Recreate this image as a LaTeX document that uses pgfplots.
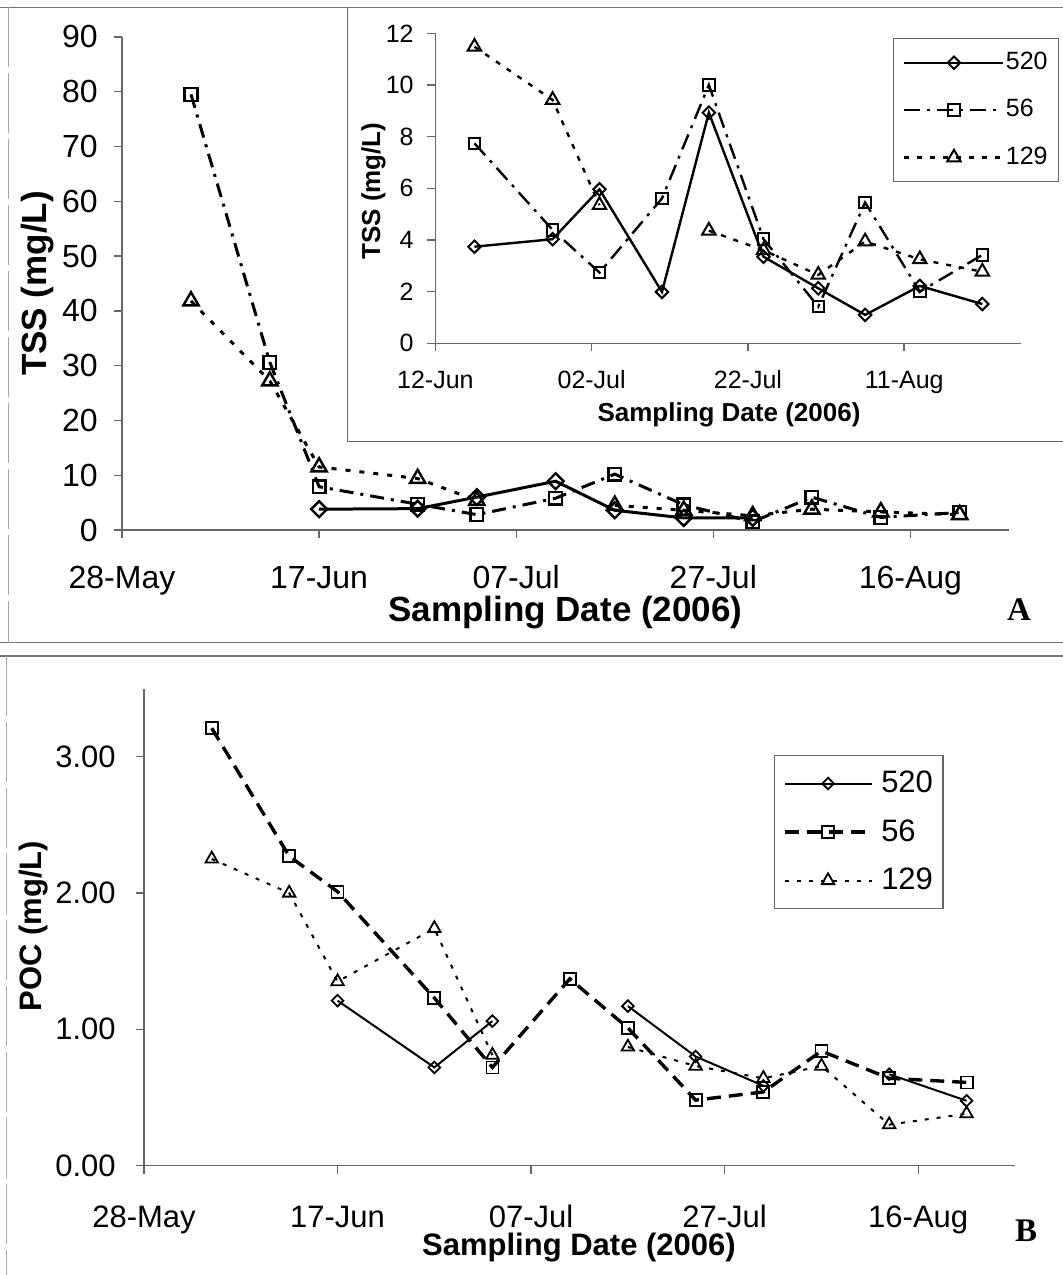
\documentclass[border=0pt]{standalone}
\usepackage{fontspec}
\setmainfont{Liberation Sans}
\newfontfamily\panelfont{Liberation Serif}
\usepackage{pgfplots}
\usepackage{pgfplotstable}
\pgfplotsset{compat=1.18}

% TSS over the whole season (mg/L); day = days after 28 May 2006
\pgfplotstableread{
day s520 s56 s129
7   nan  79.5 41.8
15  nan  30.6 27.2
20  3.8  7.9  11.5
30  3.9  4.7  9.4
36  6.0  2.8  5.4
44  8.9  5.8  nan
50  3.6  10.2 4.5
57  2.2  4.6  3.6
64  2.2  1.5  2.6
70  nan  6.0  3.8
77  nan  2.3  3.3
85  nan  3.2  2.8
}\tssfull

% TSS from 12 June on (mg/L)
\pgfplotstableread{
day s520 s56 s129
20  3.74 7.74 11.48
30  4.03 4.39 9.42
36  5.96 2.74 5.35
44  1.99 5.61 nan
50  8.93 10.0 4.36
57  3.35 4.03 3.6
64  2.13 1.42 2.65
70  1.10 5.45 3.94
77  2.22 2.0  3.25
85  1.52 3.42 2.77
}\tsslate

% POC (mg/L)
\pgfplotstableread{
day s520 s56 s129
7   nan   3.21 2.25
15  nan   2.27 2.00
20  1.21  2.01 1.35
30  0.72  1.23 1.74
36  1.06  0.72 0.81
44  nan   1.37 nan
50  1.17  1.01 0.87
57  0.80  0.48 0.73
64  0.585 0.54 0.64
70  nan   0.84 0.73
77  0.67  0.64 0.30
85  0.475 0.61 0.38
}\poc

\pgfplotsset{
  sheet/.style={
    scale only axis, anchor=south west,
    axis x line=bottom, axis y line=left,
    axis line style={-, draw=black!60, line width=0.8pt},
    tick style={draw=black!60, line width=0.7pt},
    tick align=outside, major tick length=4pt,
    /pgf/number format/assume math mode=true,
    unbounded coords=jump, clip=false,
    legend cell align=left,
    yticklabel style={anchor=east, inner sep=0pt},
    xticklabel style={anchor=base, inner sep=0pt},
    xlabel={Sampling Date (2006)},
    xlabel style={anchor=center},
    ylabel style={anchor=center},
  },
  dayaxis/.style={xmin=0, xmax=90, xtick={0,20,40,60,80},
    xticklabels={28-May,17-Jun,07-Jul,27-Jul,16-Aug}},
}

\begin{document}
\begin{tikzpicture}
\useasboundingbox (0,0) rectangle (531.5pt,-637.5pt);
% panel frames
\draw[black!55, line width=0.6pt] (0,-3.65pt) -- (531.5pt,-3.65pt);
\draw[black!55, line width=0.6pt] (0,-321.35pt) -- (531.5pt,-321.35pt);
\draw[black!55, line width=0.6pt] (0,-328pt) -- (531.5pt,-328pt);
\draw[black!35, line width=0.4pt, dash pattern=on 30pt off 3pt] (4pt,-3.65pt) -- (4pt,-321.35pt);
\draw[black!35, line width=0.4pt, dash pattern=on 30pt off 3pt] (3pt,-328pt) -- (3pt,-637.5pt);
% inset frame
\draw[black!60, line width=0.7pt] (173.8pt,-3.65pt) -- (173.8pt,-220.85pt) -- (531.5pt,-220.85pt);

% ---------- A: TSS, full season ----------
\begin{axis}[sheet, dayaxis, at={(61pt,-265pt)},
  width=443.5pt, height=246.6pt, ymin=0, ymax=90, ytick={0,10,...,90},
  tick label style={font=\fontsize{16}{19}\selectfont},
  yticklabel style={xshift=-8pt},
  xticklabel style={yshift=-25pt},
  ylabel={TSS (mg/L)},
  label style={font=\bfseries\fontsize{17.5}{21}\selectfont},
  xlabel style={at={(axis description cs:0.5,-0.168)}},
  ylabel style={at={(axis description cs:-0.0958,0.5)}},
]
\addplot[black, solid, line width=1.5pt, mark=square, mark size=2.8pt,
  mark options={solid, fill=white, rotate=45, line width=1.2pt}]
  table[x=day, y=s520] {\tssfull};
\addplot[black, line width=1.5pt, dash pattern=on 7pt off 3.5pt on 1.5pt off 3.5pt,
  mark=square, mark size=3.2pt, mark options={solid, fill=white, line width=1.2pt}]
  table[x=day, y=s56] {\tssfull};
\addplot[black, line width=1.5pt, dash pattern=on 2.5pt off 4.5pt,
  mark=triangle, mark size=4.4pt, mark options={solid, fill=white, line width=1.2pt}]
  table[x=day, y=s129] {\tssfull};
\end{axis}

% ---------- A inset: TSS from 12 June ----------
\begin{axis}[sheet, at={(217.7pt,-171.65pt)},
  width=293pt, height=155pt, xmin=15, xmax=90, xtick={15,35,55,75},
  xticklabels={12-Jun,02-Jul,22-Jul,11-Aug},
  ymin=0, ymax=12, ytick={0,2,...,12},
  tick label style={font=\fontsize{12.5}{15}\selectfont},
  yticklabel style={xshift=-6.7pt},
  xticklabel style={yshift=-18.5pt},
  ylabel={TSS (mg/L)},
  label style={font=\bfseries\fontsize{13}{16}\selectfont},
  xlabel style={at={(axis description cs:0.501,-0.231)}},
  ylabel style={at={(axis description cs:-0.1056,0.491)}},
  legend image code/.code={\draw[mark repeat=2,mark phase=2,#1]
    plot coordinates {(0pt,0pt) (24.75pt,0pt) (49.5pt,0pt)};},
  legend style={at={(axis description cs:1.064,0.985)}, anchor=north east,
    draw=black!60, line width=0.6pt, inner xsep=4.75pt, inner ysep=5.75pt,
    font=\fontsize{12.5}{15}\selectfont, row sep=11pt,
    nodes={inner sep=0.6pt, text height=9pt, text depth=2.5pt}},
]
\addplot[black, solid, line width=1.2pt, mark=square, mark size=2.2pt,
  mark options={solid, fill=white, rotate=45, line width=1pt}]
  table[x=day, y=s520] {\tsslate};
\addplot[black, line width=1.2pt, dash pattern=on 8pt off 3.5pt on 1.5pt off 3.5pt,
  mark=square, mark size=2.85pt, mark options={solid, fill=white, line width=1pt}]
  table[x=day, y=s56] {\tsslate};
\addplot[black, line width=1.2pt, dash pattern=on 2.5pt off 4pt,
  mark=triangle, mark size=3.9pt, mark options={solid, fill=white, line width=1pt}]
  table[x=day, y=s129] {\tsslate};
\legend{520,56,129}
\end{axis}

% ---------- B: POC ----------
\begin{axis}[sheet, dayaxis, at={(72pt,-582.75pt)},
  width=435.5pt, height=238.45pt, ymin=0, ymax=3.5, ytick={0,1,2,3},
  yticklabels={0.00,1.00,2.00,3.00},
  tick label style={font=\fontsize{15.5}{18.5}\selectfont},
  yticklabel style={xshift=-10pt},
  xticklabel style={yshift=-27pt},
  ylabel={POC (mg/L)},
  label style={font=\bfseries\fontsize{15.5}{18.5}\selectfont},
  xlabel style={at={(axis description cs:0.4994,-0.172)}},
  ylabel style={at={(axis description cs:-0.1263,0.502)}},
  legend image code/.code={\draw[mark repeat=2,mark phase=2,#1]
    plot coordinates {(0pt,0pt) (21.75pt,0pt) (43.5pt,0pt)};
    \path (46.5pt,0pt);},
  legend style={at={(axis description cs:0.918,0.861)}, anchor=north east,
    draw=black!60, line width=0.6pt, inner xsep=4pt, inner ysep=6pt,
    font=\fontsize{15.5}{18.5}\selectfont, row sep=8.25pt,
    nodes={inner sep=1pt, text height=11.5pt, text depth=2.5pt}},
]
\addplot[black, solid, line width=1pt, mark=square, mark size=2.05pt,
  mark options={solid, fill=white, rotate=45, line width=0.9pt}]
  table[x=day, y=s520] {\poc};
\addplot[black, line width=1.7pt, dash pattern=on 7pt off 4pt,
  mark=square, mark size=3pt, mark options={solid, fill=white, line width=0.9pt}]
  table[x=day, y=s56] {\poc};
\addplot[black, line width=1pt, dash pattern=on 2pt off 4pt,
  mark=triangle, mark size=3.6pt, mark options={solid, fill=white, line width=0.9pt}]
  table[x=day, y=s129] {\poc};
\legend{520,56,129}
\end{axis}

% panel letters
\node[font=\panelfont\bfseries\fontsize{16.5}{20}\selectfont] at (509.5pt,-305pt) {A};
\node[font=\panelfont\bfseries\fontsize{16.5}{20}\selectfont] at (513pt,-615.5pt) {B};
\end{tikzpicture}
\end{document}
